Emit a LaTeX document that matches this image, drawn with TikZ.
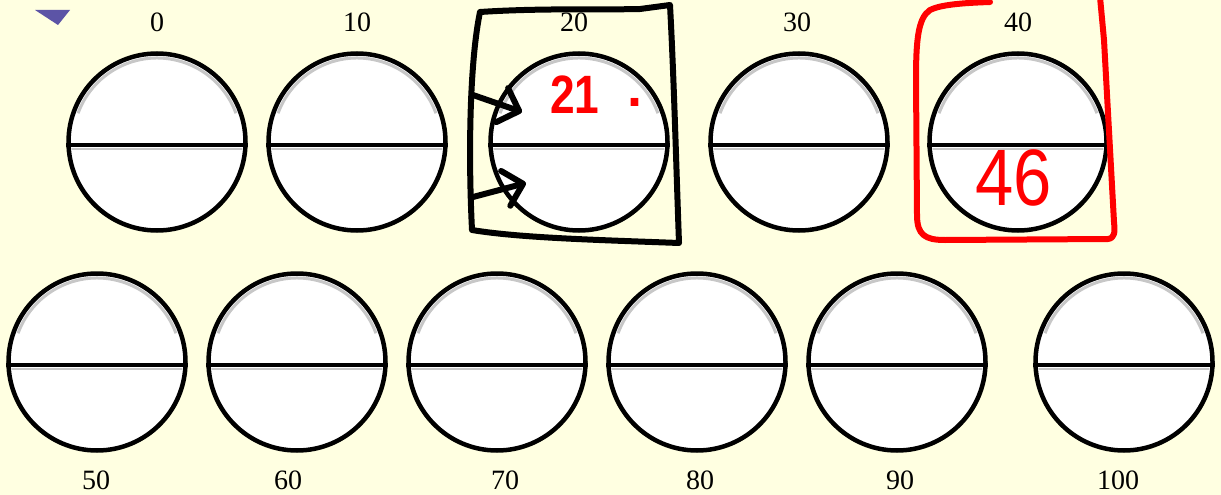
\documentclass[tikz,border=0pt]{standalone}
\usepackage{fontspec}
\setmainfont{Liberation Serif}
\newfontfamily\handfont{Liberation Sans}
\usepackage{graphicx}
\usetikzlibrary{arrows.meta,calc}
\definecolor{bgyellow}{RGB}{255,255,225}
\definecolor{markerblue}{RGB}{92,84,166}
\definecolor{penred}{RGB}{255,0,0}

\tikzset{
  disc/.style={circle,draw=black,fill=white,line width=4.5pt,minimum size=177pt,inner sep=0pt},
  numlab/.style={font=\fontsize{28}{30}\selectfont,inner sep=0pt},
  pen/.style={line width=6pt,line cap=round,line join=round},
  handnum/.style={text=penred,font=\handfont\fontsize{54}{56}\selectfont,inner sep=0pt,anchor=base west}
}

\begin{document}
\begin{tikzpicture}[x=1pt,y=-1pt]
\fill[bgyellow] (0,0) rectangle (1221,495);
\useasboundingbox (0,0) rectangle (1221,495);
% marker
\fill[markerblue] (35,10) -- (70,10) -- (58,25) -- cycle;
% top row
\foreach \n/\x/\lx in {0/157/157,10/357/357,20/579/574,30/799/797,40/1018/1018}{
  \node[disc] (c\n) at (\x,142) {};
  \node[numlab] (l\n) at (\lx,22) {\n};
}
% bottom row
\foreach \n/\x/\lx in {50/97/96,60/297/288,70/497/505,80/697/700,90/897/900,100/1124/1118}{
  \node[disc] (c\n) at (\x,362) {};
  \node[numlab] (l\n) at (\lx,480) {\n};
}
% shading and dividers
\foreach \n in {0,10,...,100}{
  \draw[black!22,line width=3pt] ($(c\n.center)+(200:84)$) arc[start angle=200,end angle=340,radius=84];
  \draw[black!22,line width=2pt] ($(c\n.west)+(6,7)$) -- ($(c\n.east)+(-6,7)$);
  \draw[line width=3.5pt] ($(c\n.west)+(0,3)$) -- ($(c\n.east)+(0,3)$);
}
% black box round 20
\draw[pen] (480,12) .. controls (540,8) and (600,10) .. (640,9) -- (670,5)
  .. controls (674,80) and (676,160) .. (679,243)
  .. controls (600,240) and (520,238) .. (472,230)
  .. controls (468,150) and (470,60) .. (480,12) -- cycle;
\coordinate (a1s) at (473,95); \coordinate (a1e) at (522,112);
\coordinate (a2s) at (473,197); \coordinate (a2e) at (526,183);
\draw[pen,-{Straight Barb[length=18pt,width=36pt,round]}] (a1s) -- (a1e);
\draw[pen,-{Straight Barb[length=18pt,width=36pt,round]}] (a2s) -- (a2e);
\node[handnum] (t21) at (550,113) {\bfseries\scalebox{0.82}[1]{21}\hspace{28pt}\raisebox{6pt}{.}};
% red box round 40
\draw[pen,penred] (990,2) .. controls (960,3) and (940,5) .. (930,10)
  .. controls (918,18) and (916,40) .. (916,80) -- (917,215)
  .. controls (917,235) and (925,240) .. (945,240) -- (1108,239)
  .. controls (1115,238) and (1115,232) .. (1114,222) -- (1104,40) -- (1100,-3);
\node[handnum,font=\handfont\fontsize{80}{84}\selectfont] (t46) at (975,205) {\scalebox{0.86}[1]{46}};
\end{tikzpicture}
\end{document}
